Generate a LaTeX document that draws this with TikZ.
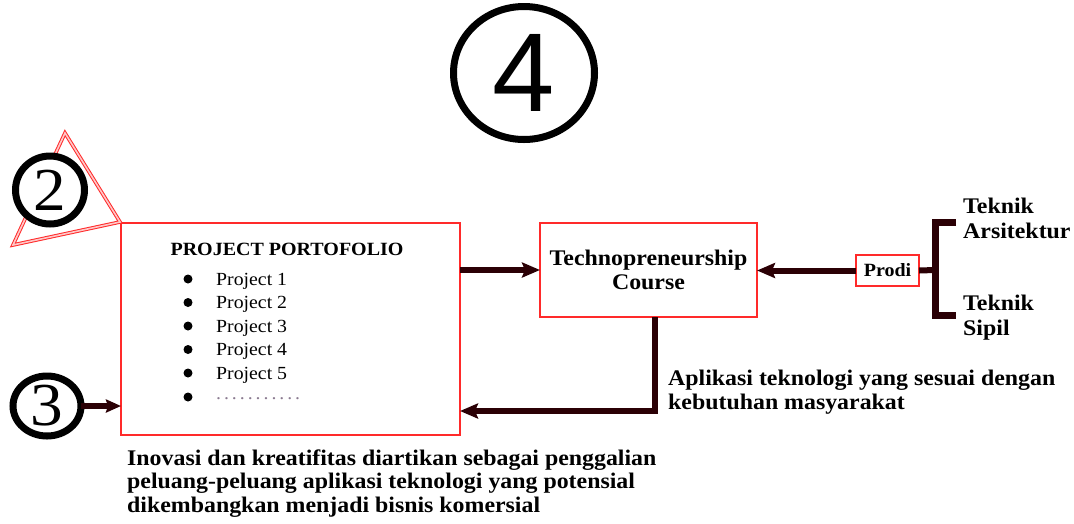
\documentclass[tikz,border=0pt]{standalone}
\usepackage{fontspec}
\setmainfont{Liberation Serif}[FakeStretch=1.07]
\newfontfamily\numsans{Liberation Sans}
\usetikzlibrary{arrows.meta,shapes.geometric}
\definecolor{boxred}{HTML}{FF2A2A}
\definecolor{flow}{HTML}{2B0005}
\definecolor{dotgray}{HTML}{8A7A90}
\definecolor{pinkfill}{HTML}{FFC8C8}

\begin{document}
\begin{tikzpicture}[x=1pt,y=-1pt,
  redbox/.style={draw=boxred,line width=1.5pt,fill=white,inner sep=0pt,outer sep=0pt},
  flowline/.style={draw=flow,line width=6pt,line join=miter},
  flowarrow/.style={flowline,-{Stealth[length=18pt,width=15pt,inset=3pt]}},
  smallarrow/.style={flowline,-{Stealth[length=15pt,width=13pt,inset=2pt]}},
  ring/.style={ellipse,draw=black,line width=7pt,fill=white,inner sep=0pt,outer sep=0pt},
  lbl/.style={anchor=base west,inner sep=0pt,font=\fontsize{22.3}{24}\selectfont\bfseries},
  item/.style={anchor=base west,inner sep=0pt,font=\fontsize{18.5}{21}\selectfont},
  bullet/.style={circle,fill=black,inner sep=0pt,minimum size=9pt},
]
\useasboundingbox (0,0) rectangle (1074,523);

% boxes
\node[redbox,minimum width=339pt,minimum height=212pt] (port) at (290.5,329) {};
\node[redbox,minimum width=217pt,minimum height=94pt,align=center,
      font=\fontsize{22.3}{24}\selectfont\bfseries] (tech) at (648.5,270)
      {Technopreneurship\\Course};
\node[redbox,minimum width=63pt,minimum height=31pt,
      font=\fontsize{18.7}{20}\selectfont\bfseries] (prodi) at (887.5,270.5) {Prodi};

% portfolio contents
\node[anchor=base,inner sep=0pt,font=\fontsize{18.7}{20}\selectfont\bfseries]
  (ptitle) at (287,255) {PROJECT PORTOFOLIO};
\node[bullet] (b1) at (188,279) {};
\node[bullet] (b2) at (188,302.5) {};
\node[bullet] (b3) at (188,326) {};
\node[bullet] (b4) at (188,349.5) {};
\node[bullet] (b5) at (188,373) {};
\node[bullet] (b6) at (188,397) {};
\node[item] (p1) at (216,285) {Project 1};
\node[item] (p2) at (216,308.5) {Project 2};
\node[item] (p3) at (216,332) {Project 3};
\node[item] (p4) at (216,355.5) {Project 4};
\node[item] (p5) at (216,379) {Project 5};
\node[item,text=dotgray] (p6) at (216,399)
  {\makebox[84pt][s]{.\hfill.\hfill.\hfill.\hfill.\hfill.\hfill.\hfill.\hfill.\hfill.\hfill.}};

% red triangle behind ring 2
\draw[boxred,line width=1pt,double=pinkfill,double distance=1.6pt,line join=miter]
  (65,133) -- (120,222) -- (13,245) -- cycle;

% numbered rings
\node[ring,minimum width=141pt,minimum height=133pt,font=\fontsize{112}{112}\numsans]
  (c4) at (524,73) {4};
\node[ring,minimum width=69pt,minimum height=68pt,font=\fontsize{61}{61}\selectfont]
  (c2) at (50,190) {2};
\node[ring,minimum width=68pt,minimum height=60pt,font=\fontsize{61}{61}\selectfont]
  (c3) at (47,406) {3};

% connectors
\draw[flowarrow] (tech.west -| port.east) -- (tech.west);
\draw[flowarrow] (prodi.west) -- (prodi.west -| tech.east);
\coordinate (turn) at (655,411);
\draw[flowarrow] (turn |- tech.south) -- (turn) -- (turn -| port.east);
\draw[smallarrow] (c3.east) -- (c3.east -| port.west);

% bracket of study programmes
\coordinate (brk) at (935,270);
\coordinate (brktop) at (956,222);
\coordinate (brkbot) at (956,315);
\draw[flowline] (prodi.east) -- (brk);
\draw[flowline,line width=7pt] (brktop) -- (brktop -| brk) -- (brkbot -| brk) -- (brkbot);

\node[lbl] (t1) at (963,213) {Teknik};
\node[lbl] (t2) at (963,238) {Arsitektur};
\node[lbl] (t3) at (963,310) {Teknik};
\node[lbl] (t4) at (963,335) {Sipil};

% notes
\node[lbl] (a1) at (668,385) {Aplikasi teknologi yang sesuai dengan};
\node[lbl] (a2) at (668,409) {kebutuhan masyarakat};

\node[lbl] (n1) at (127,465) {Inovasi dan kreatifitas diartikan sebagai penggalian};
\node[lbl] (n2) at (127,488) {peluang-peluang aplikasi teknologi yang potensial};
\node[lbl] (n3) at (127,512) {dikembangkan menjadi bisnis komersial};
\end{tikzpicture}
\end{document}
